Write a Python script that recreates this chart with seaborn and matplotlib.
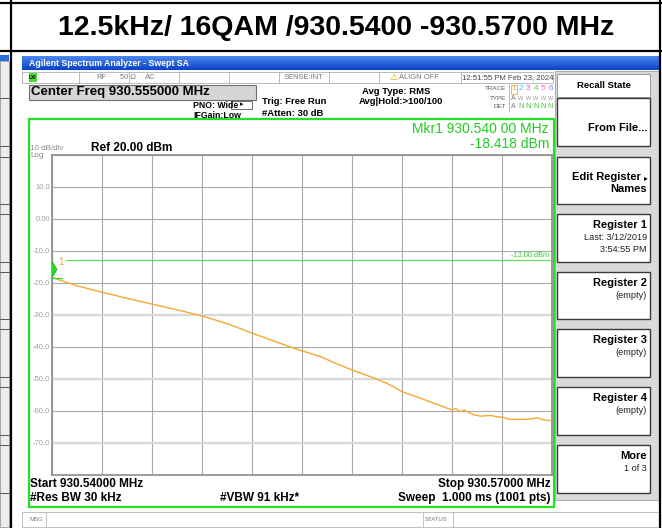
import numpy as np
import pandas as pd
import matplotlib.pyplot as plt
import seaborn as sns
from matplotlib.patches import Rectangle

# trace (MHz, dBm)
freq_mhz = [930.5400, 930.5415, 930.5430, 930.5445, 930.5460, 930.5475, 930.5490,
            930.5505, 930.5520, 930.5545, 930.5561, 930.5569, 930.5580, 930.5591,
            930.5597, 930.5603, 930.5610, 930.5621, 930.5629, 930.5640, 930.5642,
            930.5645, 930.5647, 930.5649, 930.5653, 930.5657, 930.5663, 930.5669,
            930.5670, 930.5674, 930.5681, 930.5687, 930.5691, 930.5695, 930.5699, 930.5700]
level_dbm = [-18.4, -21.0, -23.0, -24.9, -26.7, -28.5, -30.4,
             -32.8, -35.8, -40.5, -43.1, -45.0, -47.3, -49.4,
             -50.6, -52.0, -54.1, -56.1, -57.7, -59.8, -59.3,
             -60.3, -59.8, -60.3, -61.3, -61.7, -61.5, -62.1,
             -61.9, -62.7, -62.7, -62.6, -62.2, -62.9, -63.1, -63.0]

start_mhz, stop_mhz = 930.540, 930.570
ref_level = 20
y_ticks = list(range(-80, 21, 10))
y_tick_labels = ['', '-70.0', '-60.0', '-50.0', '-40.0', '-30.0', '-20.0', '-10.0', '0.00', '10.0', '']
display_line = -13.0
marker_freq = 930.540
marker_level = -18.418

title = "12.5kHz/ 16QAM /930.5400 -930.5700 MHz"
softkeys = [("From File...", []),
            ("Edit Register", ["Names"]),
            ("Register 1", ["Last: 3/12/2019", "3:54:55 PM"]),
            ("Register 2", ["(empty)"]),
            ("Register 3", ["(empty)"]),
            ("Register 4", ["(empty)"]),
            ("More", ["1 of 3"])]
softkey_rows = [(98, 146), (157, 204), (214, 262), (272, 319), (329, 377), (387, 435), (445, 493)]

GREEN = '#22e022'
TRACE = '#f7a734'

sns.set_style("white")
plt.rcParams['font.family'] = ['Liberation Sans', 'DejaVu Sans']

W, H = 662, 528
fig = plt.figure(figsize=(W / 100, H / 100), dpi=100)
bg = fig.add_axes([0, 0, 1, 1])
bg.set_xlim(0, W)
bg.set_ylim(H, 0)
bg.axis('off')


def box(x0, y0, x1, y1, fc, ec='none', lw=0.8, z=1):
    bg.add_patch(Rectangle((x0, y0), x1 - x0, y1 - y0, fc=fc, ec=ec, lw=lw, zorder=z))


def txt(x, y, s, size=6.5, color='black', weight='normal', ha='left', z=5):
    bg.text(x, y, s, fontsize=size, color=color, fontweight=weight, ha=ha, va='center', zorder=z)


# outer document table
bg.plot([0, W], [2.5, 2.5], color='black', lw=1.6)
bg.plot([0, W], [50.5, 50.5], color='black', lw=1.6)
bg.plot([10.5, 10.5], [0, H], color='black', lw=1.6)
bg.plot([659.5, 659.5], [0, H], color='black', lw=1.6)
txt(336, 28, title, size=20.5, weight='bold', ha='center')

# sliver of neighbouring screenshot on the left
box(0, 55, 8.5, 61, '#2d6be0')
box(0, 61, 8.5, 527, '#ececec', ec='#9a9a9a', lw=0.6)
for a, b in softkey_rows:
    bg.plot([0, 8.5], [a, a], color='#555555', lw=0.7)
    bg.plot([0, 8.5], [b, b], color='#555555', lw=0.7)

# screenshot window
box(22, 56, 659, 528, 'white')
grad = np.linspace(0, 1, 20)[:, None] * np.ones((1, 2))
bg.imshow(grad, cmap=sns.blend_palette(['#4a86f0', '#0b43c6'], as_cmap=True),
          extent=(22, 659, 70, 56), aspect='auto', origin='upper', zorder=1)
bg.set_xlim(0, W)
bg.set_ylim(H, 0)
txt(29, 63.5, "Agilent Spectrum Analyzer - Swept SA", size=6.3, color='white', weight='bold')

# status row
box(22, 72, 553, 82.5, 'white', ec='#b0b0b0', lw=0.6)
for xd in [78.6, 128.6, 178.6, 228.6, 278.6, 328.6, 378.6, 460.7]:
    bg.plot([xd, xd], [72, 82.5], color='#b0b0b0', lw=0.6, zorder=2)
box(28.5, 73, 37, 81.5, '#4ad83a', z=3)
txt(32.7, 77.3, "LXI", size=3.4, weight='bold', ha='center')
txt(101, 77.3, "RF", size=5.4, color='#777777', ha='center')
txt(120, 77.3, "50 Ω", size=5.4, color='#777777')
txt(145, 77.3, "AC", size=5.4, color='#777777')
txt(323, 77.3, "SENSE:INT", size=5.4, color='#777777', ha='right')
txt(394, 77.3, "⚠", size=6.5, color='#d8a400', ha='center')
txt(399, 77.3, "ALIGN OFF", size=5.4, color='#777777')
txt(462, 77.3, "12:51:55 PM Feb 23, 2024", size=5.6, color='#444444')

# setup readouts
box(28.5, 84.5, 256, 99.5, '#d6d6d6', ec='#707070', lw=0.8, z=2)
txt(31, 92, "Center Freq 930.555000 MHz", size=9.5, weight='bold', z=6)
txt(193, 105, "PNO: Wide", size=6.3, weight='bold')
box(231, 101, 252, 108.5, 'white', ec='#555555', lw=0.6, z=3)
txt(241.5, 104.7, "▸", size=5, ha='center')
txt(193, 116, "IFGain:Low", size=6.3, weight='bold')
txt(262, 102, "Trig: Free Run", size=6.8, weight='bold')
txt(262, 114, "#Atten: 30 dB", size=6.8, weight='bold')
txt(362, 91, "Avg Type: RMS", size=6.8, weight='bold')
txt(359, 102, "Avg|Hold:>100/100", size=6.8, weight='bold')

txt(506, 89, "TRACE", size=4.5, color='#555555', ha='right')
txt(506, 98, "TYPE", size=4.5, color='#555555', ha='right')
txt(506, 107, "DET", size=4.5, color='#555555', ha='right')
bg.plot([508.5, 508.5], [84, 112], color='#b0b0b0', lw=0.6)
trace_cols = ['#f7a734', '#33c8ff', '#ee44ee', '#44d844', '#ff66bb', '#8a7cff']
box(510.5, 84.5, 516.5, 93.5, 'none', ec='#f7a734', lw=0.6, z=3)
for i, c in enumerate(trace_cols):
    xi = 513.5 + i * 7.4
    txt(xi, 89, str(i + 1), size=6, color=c, ha='center')
    if i == 0:
        txt(xi, 98, "A", size=5, color='#777777', ha='center')
        txt(xi, 107, "A", size=5, color='#777777', ha='center')
    else:
        txt(xi, 98, "W", size=4, color='#999999', ha='center')
        txt(xi, 107, "N", size=5.5, color='#33cc33', ha='center')

# graticule frame
box(28.5, 119, 553.5, 506.5, 'white', ec=GREEN, lw=1.6, z=2)
txt(549, 129, "Mkr1 930.540 00 MHz", size=10, color='#22cc22', ha='right', z=6)
txt(549, 144, "-18.418 dBm", size=10, color='#22cc22', ha='right', z=6)
txt(30, 148.5, "10 dB/div", size=5.8, color='#888888', z=6)
txt(30, 155.5, "Log", size=5.8, color='#888888', z=6)
txt(91, 148, "Ref 20.00 dBm", size=8.5, weight='bold', z=6)
txt(30, 484, "Start 930.54000 MHz", size=8.5, weight='bold', z=6)
txt(551, 484, "Stop 930.57000 MHz", size=8.5, weight='bold', ha='right', z=6)
txt(30, 498, "#Res BW 30 kHz", size=8.5, weight='bold', z=6)
txt(220, 498, "#VBW 91 kHz*", size=8.5, weight='bold', z=6)
txt(551, 498, "Sweep  1.000 ms (1001 pts)", size=8.5, weight='bold', ha='right', z=6)

# message row
box(22, 511.5, 659, 527, 'white', ec='#b8b8b8', lw=0.6)
for xd in [46, 423, 453]:
    bg.plot([xd, xd], [511.5, 527], color='#b8b8b8', lw=0.6, zorder=2)
txt(29, 519.3, "MSG", size=4.3, color='#777777')
txt(425, 519.3, "STATUS", size=4.3, color='#777777')

# softkey panel
box(555, 71, 659, 500, '#dadada', ec='#a0a0a0', lw=0.6)
box(557, 74, 650, 97, 'white', ec='#9a9a9a', lw=0.7, z=2)
txt(603.5, 85.5, "Recall State", size=6.8, weight='bold', ha='center')
for (label, sub), (a, b) in zip(softkeys, softkey_rows):
    box(557, a, 650, b, 'white', ec='#3a3a3a', lw=1.0, z=2)
    if label == "Edit Register":
        txt(641, 177, label, size=8, weight='bold', ha='right')
        txt(645.5, 178.5, "▸", size=5.5, ha='center')
        txt(647, 188.5, sub[0], size=8, weight='bold', ha='right')
    elif label == "From File...":
        txt(647, 128, label, size=8, weight='bold', ha='right')
    else:
        txt(647, a + 11, label, size=8, weight='bold', ha='right')
        for k, s in enumerate(sub):
            txt(647, a + 23.5 + k * 12, s, size=6.6, color='#222222', ha='right')

# spectrum plot
ax = fig.add_axes([52.3 / W, 1 - 474.7 / H, 500 / W, 320 / H])
ax.set_zorder(3)
df = pd.DataFrame({'freq': freq_mhz, 'level': level_dbm})
sns.lineplot(data=df, x='freq', y='level', ax=ax, color=TRACE, lw=1.0, zorder=5)
ax.set_xlim(start_mhz, stop_mhz)
ax.set_ylim(ref_level - 100, ref_level)
ax.set_xticks(np.linspace(start_mhz, stop_mhz, 11))
ax.set_xticklabels([])
ax.set_yticks(y_ticks)
ax.set_yticklabels(y_tick_labels)
ax.tick_params(length=0, axis='y', labelsize=5.5, labelcolor='#a0a0a0', pad=1.5)
ax.tick_params(length=0, axis='x')
ax.set_xlabel('')
ax.set_ylabel('')
ax.grid(True, color='#a8a8a8', lw=0.8)
for v in [-30, -50, -70]:
    ax.axhline(v, color='#d8d8d8', lw=1.6, zorder=1)
for s in ax.spines.values():
    s.set_color('#8c8c8c')
    s.set_linewidth(1.2)

# display line and marker
ax.axhline(display_line, xmin=0.027, color='#55dd55', lw=0.8, zorder=4)
ax.annotate("-13.00 dBm", xy=(1, display_line), xycoords=('axes fraction', 'data'),
            xytext=(-2, 0.8), textcoords='offset points', ha='right', va='bottom',
            fontsize=5.3, color='#33cc33')
ax.plot([marker_freq, marker_freq + 0.0006], [marker_level, marker_level],
        color=GREEN, lw=0.9, zorder=6, clip_on=False)
ax.plot([marker_freq + 0.00013], [marker_level + 2.8],
        marker=[(-0.3, -1), (0.3, 0), (-0.3, 1)], ms=12,
        color=GREEN, mec='#117711', mew=0.4, zorder=7, clip_on=False)
ax.annotate("1", xy=(marker_freq, marker_level), xytext=(4.5, 11.5),
            textcoords='offset points', fontsize=7, color=TRACE, va='center')

fig.savefig("out.png", dpi=100)
